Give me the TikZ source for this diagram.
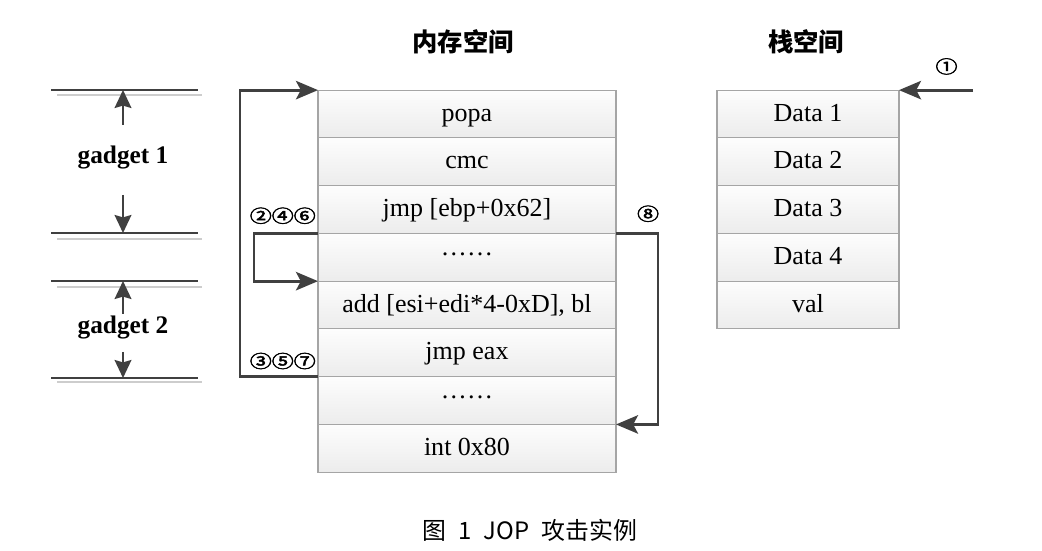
\documentclass[tikz,border=0pt]{standalone}
\usepackage{fontspec}
\setmainfont{Liberation Serif}
\newfontfamily\cjk{Noto Sans CJK SC}
\newfontfamily\ringfont{Noto Sans CJK SC}[FakeBold=2.5]
\usetikzlibrary{arrows.meta,positioning,backgrounds}
\definecolor{ink}{RGB}{64,64,64}
\definecolor{edge}{RGB}{165,165,165}
\definecolor{cellTop}{RGB}{253,253,253}
\definecolor{cellBot}{RGB}{236,236,236}
\definecolor{shade}{RGB}{205,205,205}
\tikzset{
  cell/.style={draw=edge,line width=0.8pt,top color=cellTop,bottom color=cellBot,
    minimum width=74.5mm,minimum height=11.94mm,inner sep=0pt,outer sep=0pt,
    text height=14pt,text depth=4pt,font=\fontsize{18.5}{20}\selectfont},
  slot/.style={cell,minimum width=45.5mm},
  flow/.style={draw=ink,line width=2pt,
    -{Stealth[length=5.5mm,width=4.6mm,inset=1.2mm]}},
  span/.style={draw=ink,line width=1.5pt,
    -{Stealth[length=4.5mm,width=4.2mm,inset=.6mm]}},
  rule/.style={draw=ink,line width=1.2pt},
  ruleS/.style={draw=shade,line width=1.2pt},
  circ/.style={font=\ringfont\fontsize{12.5}{13}\selectfont,inner sep=0pt},
  head/.style={font=\cjk\bfseries\fontsize{18}{19}\selectfont},
  gtag/.style={font=\bfseries\fontsize{18}{20}\selectfont},
}
\newcommand{\ring}[1]{\scalebox{1.25}[1]{#1}}
\newcommand{\gap}{\raisebox{0.75ex}{……}}

\begin{document}
\begin{tikzpicture}[x=0.25mm,y=-0.25mm]
  \useasboundingbox[fill=white] (0,0) rectangle (1042,551);
  % memory space
  \node[cell] (m1) at (467,114) {popa};
  \node[cell,below=0pt of m1] (m2) {cmc};
  \node[cell,below=0pt of m2] (m3) {jmp [ebp+0x62]};
  \node[cell,below=0pt of m3] (m4) {\gap};
  \node[cell,below=0pt of m4] (m5) {add [esi+edi*4-0xD], bl};
  \node[cell,below=0pt of m5] (m6) {jmp eax};
  \node[cell,below=0pt of m6] (m7) {\gap};
  \node[cell,below=0pt of m7] (m8) {int 0x80};
  \node[head] (memT) at (463,42) {内存空间};
  % stack space
  \node[slot] (s1) at (808,114) {Data 1};
  \node[slot,below=0pt of s1] (s2) {Data 2};
  \node[slot,below=0pt of s2] (s3) {Data 3};
  \node[slot,below=0pt of s3] (s4) {Data 4};
  \node[slot,below=0pt of s4] (s5) {val};
  \node[head] (stkT) at (806,42) {栈空间};
  \begin{scope}[on background layer]
    \fill[shade] ([yshift=-1mm]m1.north east) rectangle ([xshift=1.4mm]m8.south east);
    \fill[shade] ([yshift=-1mm]s1.north east) rectangle ([xshift=1.4mm]s5.south east);
  \end{scope}
  % gadget ranges
  \draw[ruleS] (57,95) -- (202,95);
  \draw[ruleS] (57,239) -- (202,239);
  \draw[ruleS] (57,287) -- (202,287);
  \draw[ruleS] (57,382) -- (202,382);
  \draw[rule] (51,90) -- (198,90);
  \draw[rule] (51,233) -- (198,233);
  \draw[rule] (51,281) -- (198,281);
  \draw[rule] (51,378) -- (198,378);
  \coordinate (l1) at (123,90);
  \coordinate (l2) at (123,233);
  \coordinate (l3) at (123,281);
  \coordinate (l4) at (123,378);
  \node[gtag] (gad1) at (123,158) {gadget 1};
  \node[gtag] (gad2) at (123,328) {gadget 2};
  \coordinate (t1) at (123,125);
  \coordinate (t2) at (123,195);
  \coordinate (t3) at (123,314);
  \coordinate (t4) at (123,352);
  \draw[span] (t1) -- (l1);
  \draw[span] (t2) -- (l2);
  \draw[span] (t3) -- (l3);
  \draw[span] (t4) -- (l4);
  % jumps
  \coordinate[right=18.5mm of s1.north east] (entry);
  \draw[flow] (entry) -- (s1.north east);
  \draw[flow] (m6.south west) -- ++(-78,0) |- (m1.north west);
  \draw[flow] (m3.south west) -- ++(-64,0) |- (m5.north west);
  \draw[flow] (m3.south east) -- ++(42,0) |- (m8.north east);
  \node[circ,above left=2.3mm and 0.5mm of m3.south west] (k246) {\ring{②④⑥}};
  \node[circ,above left=1.8mm and 0.5mm of m6.south west] (k357) {\ring{③⑤⑦}};
  \node[circ,above right=2.8mm and 5.2mm of m3.south east] (k8) {\ring{⑧}};
  \node[circ,above left=3.8mm and 3.8mm of entry] (k1) {\ring{①}};
  % caption
  \node[font=\cjk\fontsize{17}{18}\selectfont] (cap) at (530,530)
    {图\hspace{0.5em}1\hspace{0.5em}JOP\hspace{0.5em}攻击实例};
\end{tikzpicture}
\end{document}
